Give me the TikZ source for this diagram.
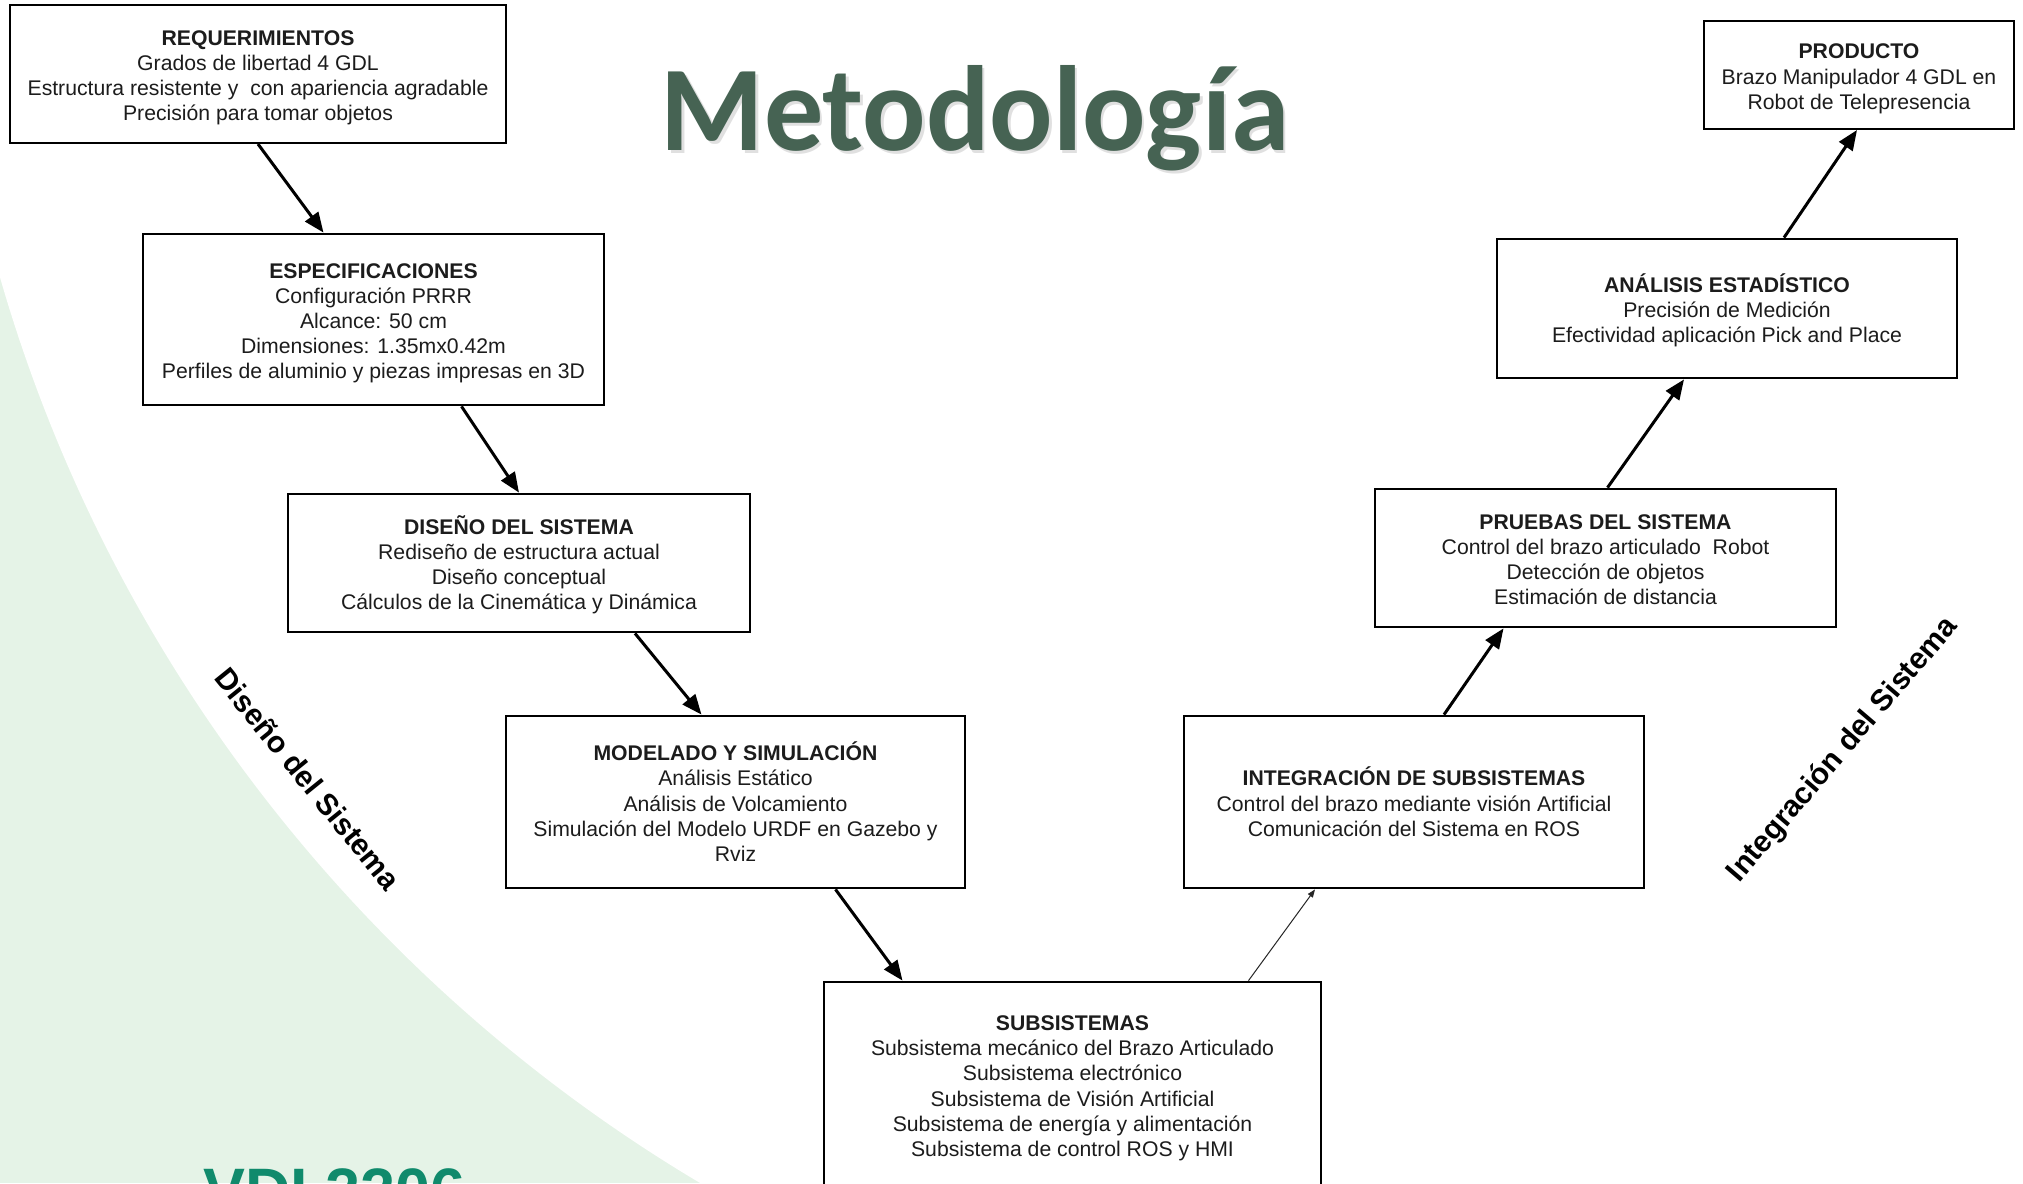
\documentclass[tikz,border=0pt]{standalone}
\usepackage{fontspec}
\setmainfont{Liberation Sans}
\newfontfamily\titlefont{Carlito}
\usetikzlibrary{arrows.meta}
\definecolor{bggreen}{RGB}{229,243,231}
\definecolor{titlegreen}{RGB}{70,99,83}
\definecolor{vdigreen}{RGB}{16,138,108}
\definecolor{boxtext}{RGB}{28,28,28}
\newcommand{\boxhead}[1]{\rule{0pt}{11.3pt}\textbf{#1}}
\begin{document}
\begin{tikzpicture}[x=0.5pt,y=-0.5pt,
 stagebox/.style={draw=black, line width=1.4pt, fill=white, align=center, inner sep=0pt, text=boxtext, font=\fontsize{10.6}{12.6}\selectfont,
   execute at end node={\rule[-2.3pt]{0pt}{2.3pt}}},
 thinbox/.style={stagebox, line width=1pt},
 thickarrow/.style={line width=1.5pt, -{Triangle[length=10pt,width=8pt]}},
 thinarrow/.style={line width=0.5pt, draw=black!85, -{Triangle[length=4pt,width=3pt]}},
 sidelabel/.style={font=\bfseries\fontsize{15}{18}\selectfont, text=black, inner sep=0pt},
 titlestyle/.style={anchor=base west, inner sep=0pt, xscale=0.975, font=\titlefont\bfseries\fontsize{60.6}{70}\selectfont}
]
\useasboundingbox (0,0) rectangle (2023,1183);
\clip (0,0) rectangle (2023,1183);
% background
\fill[bggreen] (0,0) rectangle (2023,1183);
\fill[white] (1493.5,-153.5) circle [radius=777pt];

% title
\node[titlestyle, text=black!40, opacity=0.3] (titleshadow) at (663,153) {Metodología};
\node[titlestyle, text=titlegreen] (title) at (660.5,150) {Metodología};

% VDI text (cut off at bottom)
\node[anchor=base west, inner sep=0pt, text=vdigreen, font=\bfseries\fontsize{31.4}{36}\selectfont] (vdi) at (203,1212) {VDI 2206};

% boxes
\node[thinbox, minimum width=248pt, minimum height=69pt] (req) at (258,74)
 {\boxhead{REQUERIMIENTOS}\\Grados de libertad 4 GDL\\Estructura resistente y~ con apariencia agradable\\Precisión para tomar objetos};
\node[stagebox, minimum width=230.5pt, minimum height=85.5pt] (esp) at (373.5,319.5)
 {\boxhead{ESPECIFICACIONES}\\Configuración PRRR\\Alcance: 50 cm\\Dimensiones: 1.35mx0.42m\\Perfiles de aluminio y piezas impresas en 3D};
\node[stagebox, minimum width=231pt, minimum height=69pt] (dis) at (519,563)
 {\boxhead{DISEÑO DEL SISTEMA}\\Rediseño de estructura actual\\Diseño conceptual\\Cálculos de la Cinemática y Dinámica};
\node[stagebox, minimum width=229.5pt, minimum height=86pt] (mod) at (735.5,802)
 {\boxhead{MODELADO Y SIMULACIÓN}\\Análisis Estático\\Análisis de Volcamiento\\Simulación del Modelo URDF en Gazebo y\\Rviz};
\node[stagebox, minimum width=248.5pt, minimum height=102.5pt] (sub) at (1072.5,1084.5)
 {\boxhead{SUBSISTEMAS}\\Subsistema mecánico del Brazo Articulado\\Subsistema electrónico\\Subsistema de Visión Artificial\\Subsistema de energía y alimentación\\Subsistema de control ROS y HMI};
\node[stagebox, minimum width=230pt, minimum height=86pt] (int) at (1414,802)
 {\boxhead{INTEGRACIÓN DE SUBSISTEMAS}\\Control del brazo mediante visión Artificial\\Comunicación del Sistema en ROS};
\node[stagebox, minimum width=230.5pt, minimum height=69pt] (pru) at (1605.5,558)
 {\boxhead{PRUEBAS DEL SISTEMA}\\Control del brazo articulado~ Robot\\Detección de objetos\\Estimación de distancia};
\node[stagebox, minimum width=230pt, minimum height=69.5pt] (ana) at (1727,308.5)
 {\boxhead{ANÁLISIS ESTADÍSTICO}\\Precisión de Medición\\Efectividad aplicación Pick and Place};
\node[thinbox, minimum width=155pt, minimum height=54pt] (prod) at (1859,75)
 {\boxhead{PRODUCTO}\\Brazo Manipulador 4 GDL en\\Robot de Telepresencia};

% arrows
\draw[thickarrow] (req.south) -- ([xshift=-25pt]esp.north);
\draw[thickarrow] ([xshift=44pt]esp.south) -- (dis.north);
\draw[thickarrow] ([xshift=58pt]dis.south) -- ([xshift=-17pt]mod.north);
\draw[thickarrow] ([xshift=50pt]mod.south) -- ([xshift=-85pt]sub.north);
\draw[thinarrow] ([xshift=88pt]sub.north) -- ([xshift=-49.5pt]int.south);
\draw[thickarrow] ([xshift=15pt]int.north) -- ([xshift=-51pt]pru.south);
\draw[thickarrow] ([xshift=1pt]pru.north) -- ([xshift=-21.5pt]ana.south);
\draw[thickarrow] ([xshift=28.5pt]ana.north) -- ([xshift=-1pt]prod.south);

% side labels
\node[sidelabel, rotate=-51] (dlabel) at (308,779) {Diseño del Sistema};
\node[sidelabel, rotate=49.5] (ilabel) at (1843,750) {Integración del Sistema};
\end{tikzpicture}
\end{document}
